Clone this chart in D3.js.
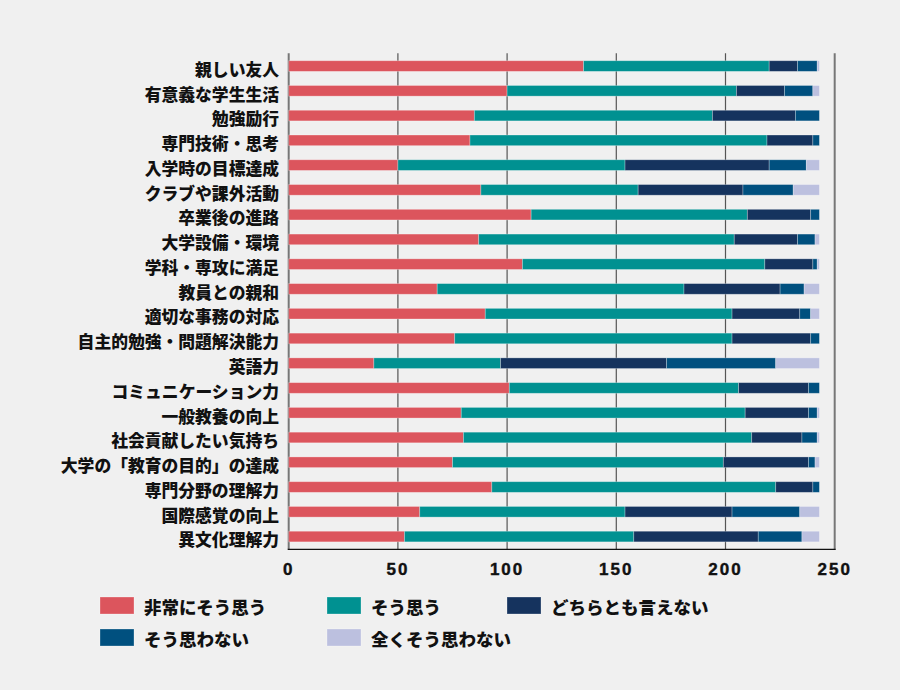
<!DOCTYPE html>
<html>
<head>
<meta charset="utf-8">
<script src="https://cdn.jsdelivr.net/npm/d3@7"></script>
<style>
  html, body { margin: 0; padding: 0; background: #f0f0f0; }
  svg { display: block; }
  .cjk { font-family: "Noto Sans CJK JP", "Noto Sans", sans-serif; font-weight: 900; fill: #111; }
  .num { font-family: "Liberation Sans", Arial, sans-serif; font-weight: 700; fill: #111; }
</style>
</head>
<body>
<svg id="chart" width="900" height="690"></svg>
<script>
const categories = [
  "親しい友人", "有意義な学生生活", "勉強励行", "専門技術・思考", "入学時の目標達成",
  "クラブや課外活動", "卒業後の進路", "大学設備・環境", "学科・専攻に満足", "教員との親和",
  "適切な事務の対応", "自主的勉強・問題解決能力", "英語力", "コミュニケーション力", "一般教養の向上",
  "社会貢献したい気持ち", "大学の「教育の目的」の達成", "専門分野の理解力", "国際感覚の向上", "異文化理解力"
];
const seriesNames = ["非常にそう思う", "そう思う", "どちらとも言えない", "そう思わない", "全くそう思わない"];
const seriesColors = ["#dc555d", "#009191", "#15335e", "#00507f", "#bcc0df"];
const stronglyAgree    = [135,100, 85, 83, 50, 88,111, 87,107, 68, 90, 76, 39,101, 79, 80, 75, 93, 60, 53];
const agree            = [ 85,105,109,136,104, 72, 99,117,111,113,113,127, 58,105,130,132,124,130, 94,105];
const neutral          = [ 13, 22, 38, 21, 66, 48, 29, 29, 22, 44, 31, 36, 76, 32, 29, 23, 39, 17, 49, 57];
const disagree         = [  9, 13, 11,  3, 17, 23,  4,  8,  2, 11,  5,  4, 50,  5,  4,  7,  3,  3, 31, 20];
const stronglyDisagree = [  1,  3,  0,  0,  6, 12,  0,  2,  1,  7,  4,  0, 20,  0,  1,  1,  2,  0,  9,  8];
const xTicks = [0, 50, 100, 150, 200, 250];

const seriesValues = [stronglyAgree, agree, neutral, disagree, stronglyDisagree];
const keys = ["s0", "s1", "s2", "s3", "s4"];
const rows = categories.map((c, i) => {
  const r = { category: c };
  keys.forEach((k, j) => r[k] = seriesValues[j][i]);
  return r;
});

const svg = d3.select("#chart");
const plotLeft = 288.7, plotRight = 834.7, plotTop = 53.3, plotBottom = 549.3;

const x = d3.scaleLinear().domain([0, 250]).range([plotLeft, plotRight]);
const y = d3.scaleBand().domain(categories).range([plotTop, plotBottom])
  .paddingInner(0.57).paddingOuter(0.3);

// gridlines
svg.append("g").selectAll("line").data(xTicks.filter(t => t > 0 && t < 250)).join("line")
  .attr("x1", d => x(d)).attr("x2", d => x(d))
  .attr("y1", plotTop).attr("y2", plotBottom)
  .attr("stroke", "#555").attr("stroke-width", 1.2);

// frame lines
svg.append("line").attr("x1", x(0)).attr("x2", x(0)).attr("y1", plotTop).attr("y2", plotBottom)
  .attr("stroke", "#777").attr("stroke-width", 2);
svg.append("line").attr("x1", x(250)).attr("x2", x(250)).attr("y1", plotTop).attr("y2", plotBottom)
  .attr("stroke", "#777").attr("stroke-width", 2);
svg.append("line").attr("x1", x(0) - 1).attr("x2", x(250) + 1).attr("y1", plotBottom).attr("y2", plotBottom)
  .attr("stroke", "#111").attr("stroke-width", 1.2);

// bars
const stack = d3.stack().keys(keys)(rows);
svg.append("g").selectAll("g").data(stack).join("g")
  .attr("fill", (d, i) => seriesColors[i])
  .selectAll("rect").data(d => d).join("rect")
  .attr("x", d => x(d[0]))
  .attr("width", d => Math.max(0, x(d[1]) - x(d[0])))
  .attr("y", d => y(d.data.category))
  .attr("height", y.bandwidth())
  .attr("stroke", "rgba(255,255,255,0.35)")
  .attr("stroke-width", 0.8);

// category labels
svg.append("g").selectAll("text").data(categories).join("text")
  .attr("class", "cjk")
  .attr("x", 279)
  .attr("y", d => y(d) + y.bandwidth() / 2 + 2.8)
  .attr("text-anchor", "end")
  .attr("dominant-baseline", "central")
  .attr("font-size", 16.8)
  .text(d => d);

// x tick labels
svg.append("g").selectAll("text").data(xTicks).join("text")
  .attr("class", "num")
  .attr("x", d => x(d))
  .attr("y", 575)
  .attr("text-anchor", "middle")
  .attr("font-size", 17)
  .attr("letter-spacing", 2)
  .attr("stroke", "#111").attr("stroke-width", 0.4)
  .text(d => d);

// legend
const legendPos = [[100, 597], [327, 597], [507, 597], [100, 629], [327, 629]];
const lg = svg.append("g").selectAll("g").data(seriesNames).join("g")
  .attr("transform", (d, i) => `translate(${legendPos[i][0]},${legendPos[i][1]})`);
lg.append("rect").attr("width", 34).attr("height", 17)
  .attr("fill", (d, i) => seriesColors[i])
  .attr("stroke", "rgba(255,255,255,0.35)").attr("stroke-width", 0.8);
lg.append("text").attr("class", "cjk")
  .attr("x", 44).attr("y", 9.5)
  .attr("dominant-baseline", "central")
  .attr("font-size", 17.5)
  .text(d => d);
</script>
</body>
</html>
